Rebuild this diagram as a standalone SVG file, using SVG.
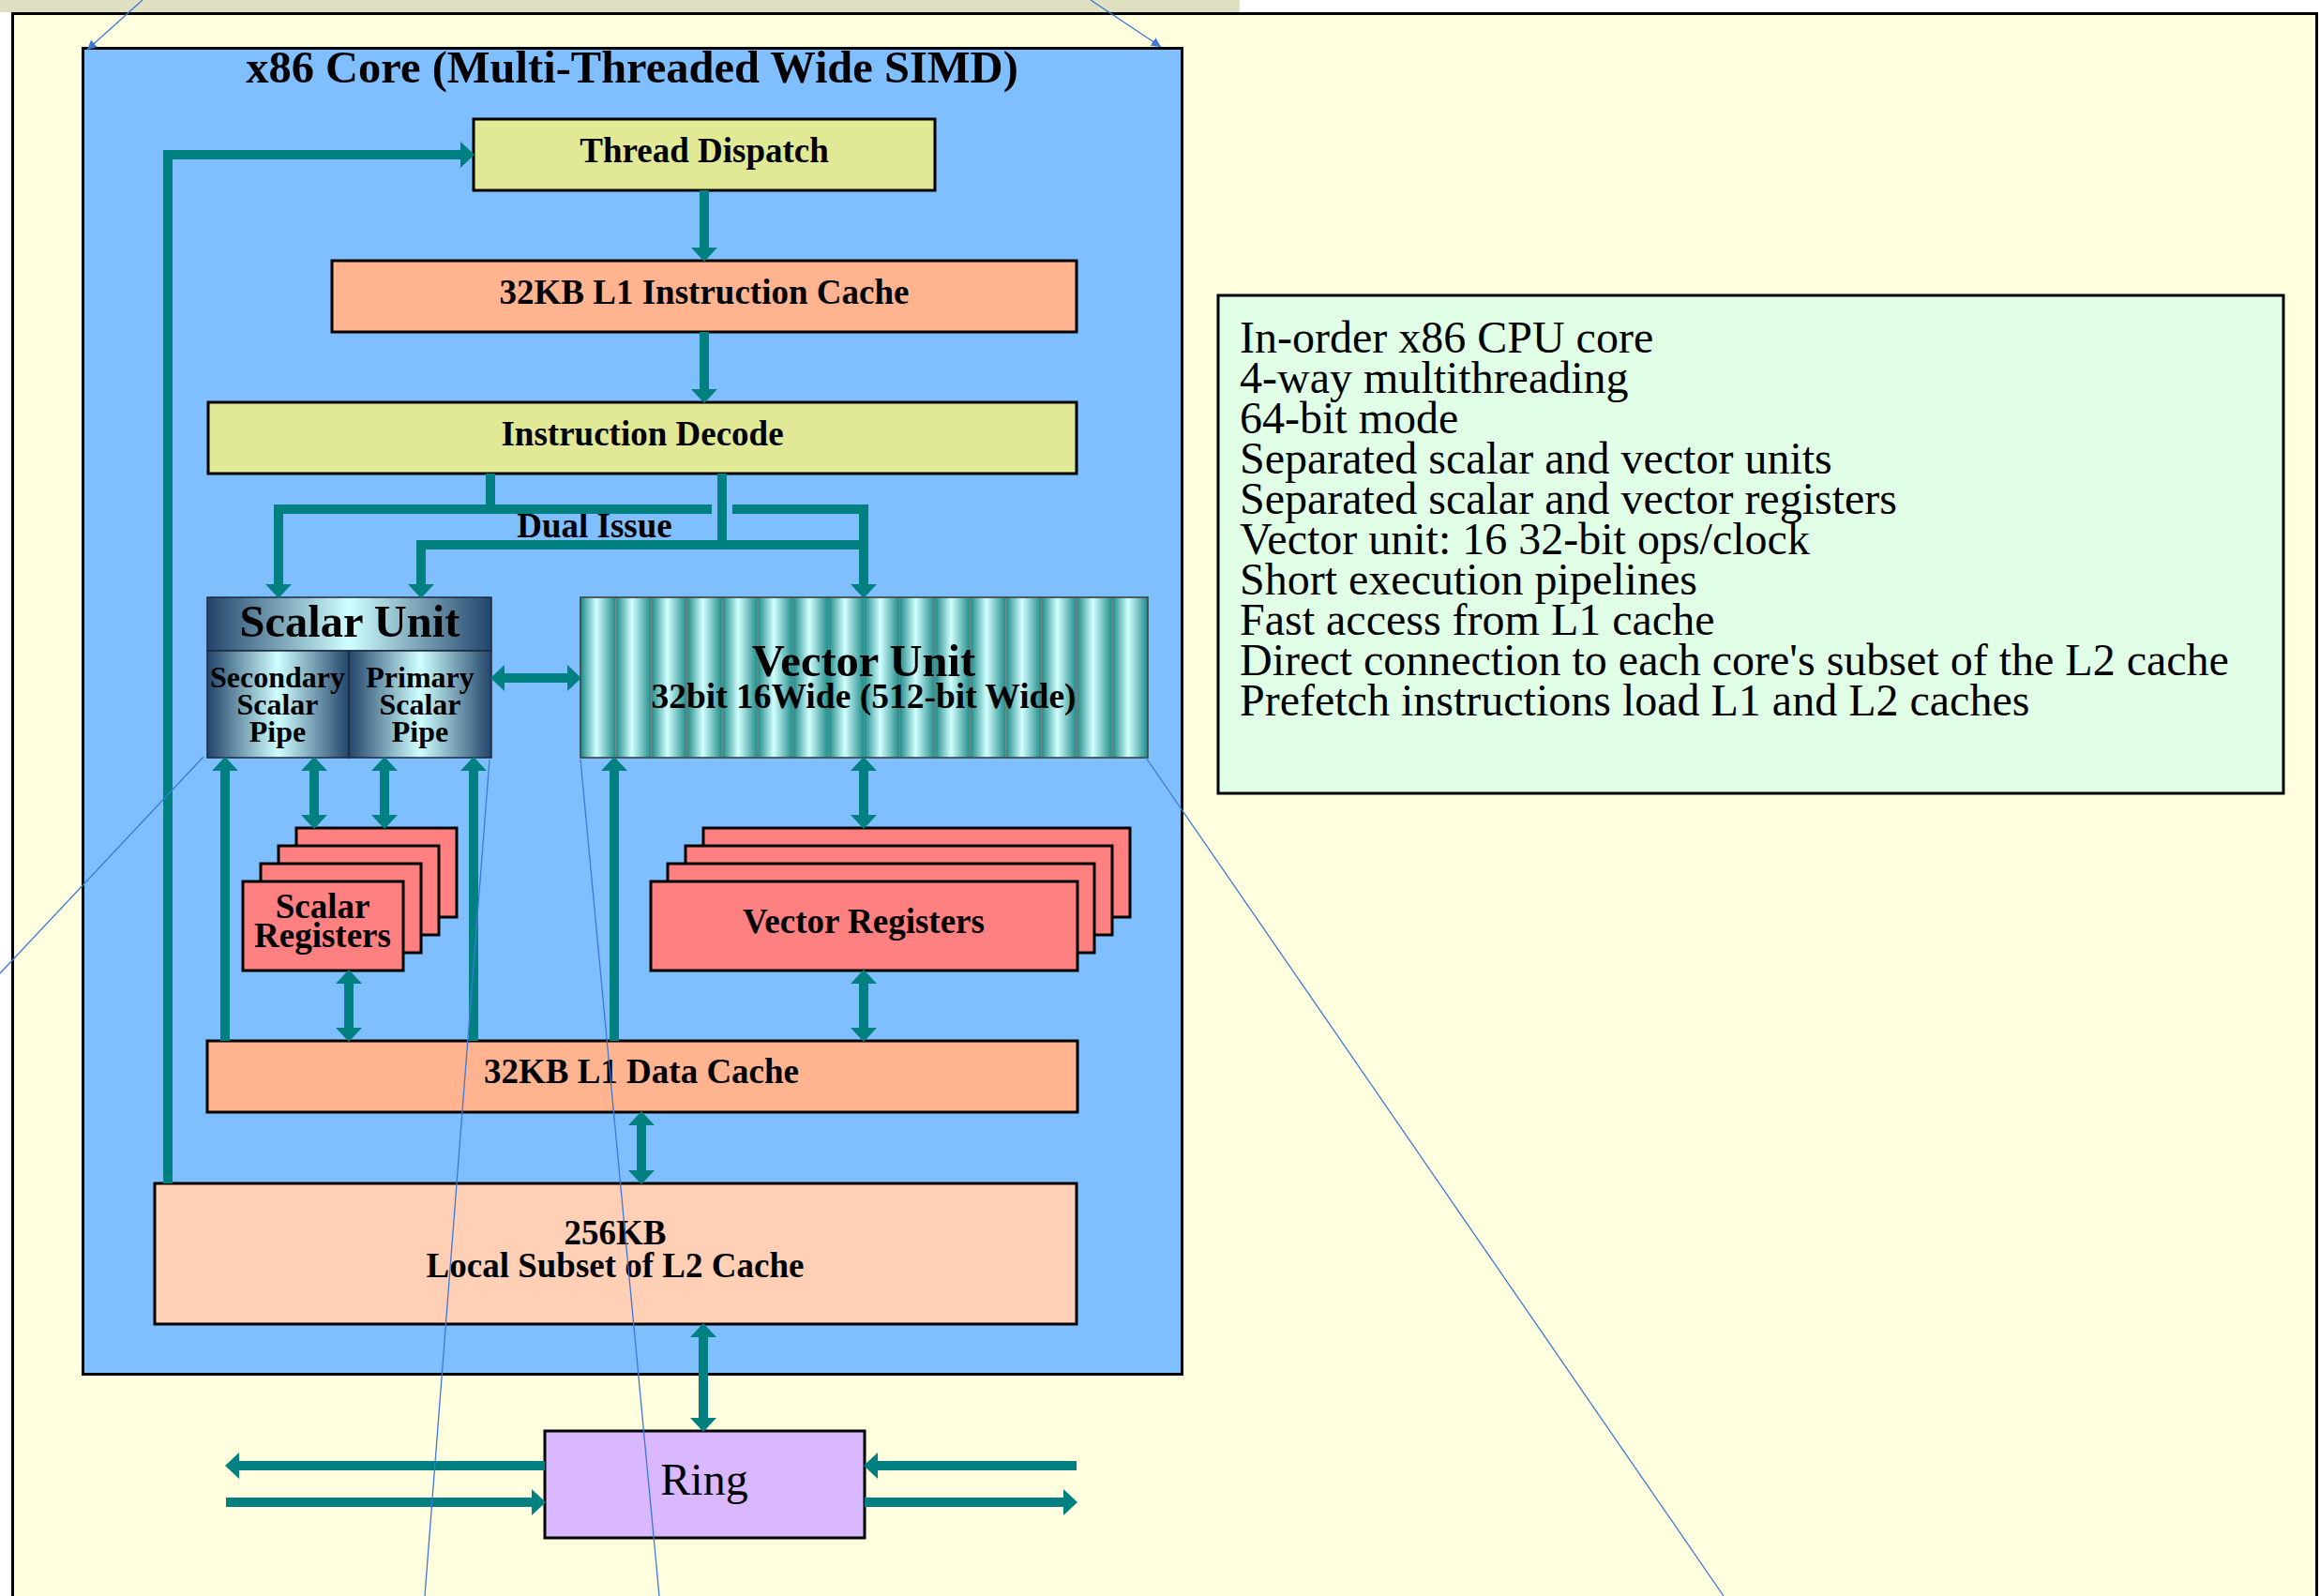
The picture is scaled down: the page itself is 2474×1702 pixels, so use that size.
<svg xmlns="http://www.w3.org/2000/svg" width="2474" height="1702" viewBox="0 0 2474 1702">
<style>
.box{stroke:#000;stroke-width:3}
.lbl{font-family:"Liberation Serif","Times New Roman",serif;font-weight:bold;font-size:37px;text-anchor:middle;fill:#000}
.txt{font-family:"Liberation Serif","Times New Roman",serif;font-size:48px;fill:#000}
.conn{stroke:#008080;stroke-width:10;fill:none;stroke-linejoin:miter}
.thin{stroke:#3B78D8;stroke-width:1.3;fill:none}
.reg{fill:#FF8080;stroke:#000;stroke-width:3}
.stripe{fill:url(#vg);stroke:#7A8A8A;stroke-width:1}
</style>
<defs>
<linearGradient id="sg" x1="0" y1="0" x2="1" y2="0">
<stop offset="0" stop-color="#22446A"/>
<stop offset="0.5" stop-color="#CFFFFF"/>
<stop offset="1" stop-color="#22446A"/>
</linearGradient>
<linearGradient id="vg" x1="0" y1="0" x2="1" y2="0">
<stop offset="0" stop-color="#1E8A88"/>
<stop offset="0.45" stop-color="#D2FFFF"/>
<stop offset="1" stop-color="#1E8A88"/>
</linearGradient>
<marker id="ah" markerUnits="userSpaceOnUse" markerWidth="16" markerHeight="30" refX="0" refY="15" orient="auto-start-reverse" viewBox="0 0 16 30" overflow="visible">
<path d="M0,1 L15,15 L0,29 Z" fill="#008080"/>
</marker>
<marker id="bh" markerUnits="userSpaceOnUse" markerWidth="12" markerHeight="10" refX="10" refY="5" orient="auto" viewBox="0 0 12 10">
<path d="M0,0 L10,5 L0,10 Z" fill="#3B78D8"/>
</marker>
</defs>

<rect x="0" y="0" width="2474" height="1702" fill="#FFFFFF"/>
<rect x="0" y="0" width="1322" height="13" fill="#DFDFC2"/>
<rect x="13.5" y="14.5" width="2457" height="1720" fill="#FFFFE0" stroke="#000" stroke-width="3"/>

<g id="core">
<rect x="88.5" y="51.5" width="1172" height="1414" fill="#80BFFF" stroke="#000" stroke-width="3"/>
<text class="lbl" x="674" y="88" style="font-size:48.5px">x86 Core (Multi-Threaded Wide SIMD)</text>
</g>

<g id="thread-dispatch">
<rect class="box" x="505" y="127" width="492" height="76" fill="#E1E996"/>
<text class="lbl" x="751" y="173">Thread Dispatch</text>
</g>

<g id="l1-icache">
<rect class="box" x="354" y="278" width="794" height="76" fill="#FFB38F"/>
<text class="lbl" x="751" y="324">32KB L1 Instruction Cache</text>
</g>

<g id="decode">
<rect class="box" x="222" y="429" width="926" height="76" fill="#E1E996"/>
<text class="lbl" x="685" y="475">Instruction Decode</text>
</g>

<g id="dual-issue-label">
<text class="lbl" x="634" y="573">Dual Issue</text>
</g>

<g id="scalar-unit">
<rect x="221" y="637" width="303" height="57" fill="url(#sg)" stroke="#1A2A40" stroke-width="1.5"/>
<rect x="221" y="694" width="151" height="114" fill="url(#sg)" stroke="#1A2A40" stroke-width="1.5"/>
<rect x="372" y="694" width="152" height="114" fill="url(#sg)" stroke="#1A2A40" stroke-width="1.5"/>
<text class="lbl" x="373" y="679" style="font-size:48.5px">Scalar Unit</text>
<text class="lbl" x="296" y="733" style="font-size:32px">Secondary</text>
<text class="lbl" x="296" y="762" style="font-size:32px">Scalar</text>
<text class="lbl" x="296" y="791" style="font-size:32px">Pipe</text>
<text class="lbl" x="448" y="733" style="font-size:32px">Primary</text>
<text class="lbl" x="448" y="762" style="font-size:32px">Scalar</text>
<text class="lbl" x="448" y="791" style="font-size:32px">Pipe</text>
</g>

<g id="vector-unit">
<rect class="stripe" x="619" y="637" width="37.81" height="171"/>
<rect class="stripe" x="656.81" y="637" width="37.81" height="171"/>
<rect class="stripe" x="694.63" y="637" width="37.81" height="171"/>
<rect class="stripe" x="732.44" y="637" width="37.81" height="171"/>
<rect class="stripe" x="770.25" y="637" width="37.81" height="171"/>
<rect class="stripe" x="808.06" y="637" width="37.81" height="171"/>
<rect class="stripe" x="845.88" y="637" width="37.81" height="171"/>
<rect class="stripe" x="883.69" y="637" width="37.81" height="171"/>
<rect class="stripe" x="921.5" y="637" width="37.81" height="171"/>
<rect class="stripe" x="959.31" y="637" width="37.81" height="171"/>
<rect class="stripe" x="997.13" y="637" width="37.81" height="171"/>
<rect class="stripe" x="1034.94" y="637" width="37.81" height="171"/>
<rect class="stripe" x="1072.75" y="637" width="37.81" height="171"/>
<rect class="stripe" x="1110.56" y="637" width="37.81" height="171"/>
<rect class="stripe" x="1148.38" y="637" width="37.81" height="171"/>
<rect class="stripe" x="1186.19" y="637" width="37.81" height="171"/>
<rect x="619" y="637" width="605" height="171" fill="none" stroke="#334444" stroke-width="1.5"/>
<text class="lbl" x="921" y="721" style="font-size:48.5px">Vector Unit</text>
<text class="lbl" x="921" y="755" style="font-size:37.5px">32bit 16Wide (512-bit Wide)</text>
</g>

<g id="scalar-registers">
<rect class="reg" x="316" y="883" width="171" height="95"/>
<rect class="reg" x="297" y="902" width="171" height="95"/>
<rect class="reg" x="278" y="921" width="171" height="95"/>
<rect class="reg" x="259" y="940" width="171" height="95"/>
<text class="lbl" x="344" y="979">Scalar</text>
<text class="lbl" x="344" y="1010">Registers</text>
</g>

<g id="vector-registers">
<rect class="reg" x="750" y="883" width="455" height="95"/>
<rect class="reg" x="731" y="902" width="455" height="95"/>
<rect class="reg" x="712" y="921" width="455" height="95"/>
<rect class="reg" x="694" y="940" width="455" height="95"/>
<text class="lbl" x="921" y="995">Vector Registers</text>
</g>

<g id="l1-dcache">
<rect class="box" x="221" y="1110" width="928" height="76" fill="#FFB38F"/>
<text class="lbl" x="684" y="1155">32KB L1 Data Cache</text>
</g>

<g id="l2-cache">
<rect class="box" x="165" y="1262" width="983" height="150" fill="#FFCFB6"/>
<text class="lbl" x="656" y="1327">256KB</text>
<text class="lbl" x="656" y="1362">Local Subset of L2 Cache</text>
</g>

<g id="ring">
<rect class="box" x="581" y="1526" width="341" height="114" fill="#D9B8FF"/>
<text class="txt" x="751" y="1594" text-anchor="middle">Ring</text>
</g>

<g id="features">
<rect class="box" x="1299" y="315" width="1136" height="531" fill="#E0FFE6"/>
<text class="txt" x="1322" y="376">In-order x86 CPU core</text>
<text class="txt" x="1322" y="419">4-way multithreading</text>
<text class="txt" x="1322" y="462">64-bit mode</text>
<text class="txt" x="1322" y="505">Separated scalar and vector units</text>
<text class="txt" x="1322" y="548">Separated scalar and vector registers</text>
<text class="txt" x="1322" y="591">Vector unit: 16 32-bit ops/clock</text>
<text class="txt" x="1322" y="634">Short execution pipelines</text>
<text class="txt" x="1322" y="677">Fast access from L1 cache</text>
<text class="txt" x="1322" y="720">Direct connection to each core's subset of the L2 cache</text>
<text class="txt" x="1322" y="763">Prefetch instructions load L1 and L2 caches</text>
</g>

<g id="connectors">
<path class="conn" d="M179,1262 V165 H491" marker-end="url(#ah)"/>
<path class="conn" d="M751,203 V264" marker-end="url(#ah)"/>
<path class="conn" d="M751,354 V415" marker-end="url(#ah)"/>
<path class="conn" d="M523,505 V543"/>
<path class="conn" d="M759,543 H297 V623" marker-end="url(#ah)"/>
<path class="conn" d="M781,543 H921 V623" marker-end="url(#ah)"/>
<path class="conn" d="M770,505 V586"/>
<path class="conn" d="M921,581 H449 V623" marker-end="url(#ah)"/>
<path class="conn" d="M538,723 H605" marker-start="url(#ah)" marker-end="url(#ah)"/>
<path class="conn" d="M240,1110 V822" marker-end="url(#ah)"/>
<path class="conn" d="M335,822 V869" marker-start="url(#ah)" marker-end="url(#ah)"/>
<path class="conn" d="M410,822 V869" marker-start="url(#ah)" marker-end="url(#ah)"/>
<path class="conn" d="M505,1110 V822" marker-end="url(#ah)"/>
<path class="conn" d="M655,1110 V822" marker-end="url(#ah)"/>
<path class="conn" d="M921,822 V869" marker-start="url(#ah)" marker-end="url(#ah)"/>
<path class="conn" d="M921,1049 V1096" marker-start="url(#ah)" marker-end="url(#ah)"/>
<path class="conn" d="M372,1049 V1096" marker-start="url(#ah)" marker-end="url(#ah)"/>
<path class="conn" d="M684,1200 V1248" marker-start="url(#ah)" marker-end="url(#ah)"/>
<path class="conn" d="M750,1426 V1512" marker-start="url(#ah)" marker-end="url(#ah)"/>
<path class="conn" d="M581,1563 H255" marker-end="url(#ah)"/>
<path class="conn" d="M241,1602 H567" marker-end="url(#ah)"/>
<path class="conn" d="M1148,1563 H936" marker-end="url(#ah)"/>
<path class="conn" d="M922,1602 H1134" marker-end="url(#ah)"/>
</g>

<g id="callout-lines">
<path class="thin" d="M152,0 L93,53" marker-end="url(#bh)"/>
<path class="thin" d="M1163,0 L1238,50" marker-end="url(#bh)"/>
<path class="thin" d="M217,807 L0,1038"/>
<path class="thin" d="M522,810 L453,1702"/>
<path class="thin" d="M619,810 L703,1702"/>
<path class="thin" d="M1222,808 L1838,1702"/>
</g>
</svg>
